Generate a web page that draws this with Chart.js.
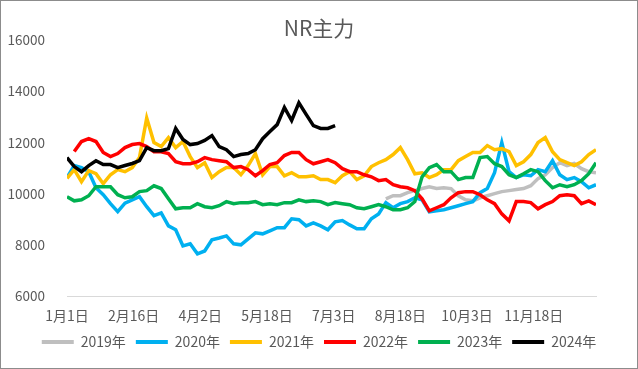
<!DOCTYPE html>
<html>
<head>
<meta charset="utf-8">
<script src="https://cdn.jsdelivr.net/npm/chart.js@4.4.1/dist/chart.umd.min.js"></script>
<style>
  html, body { margin: 0; padding: 0; background: #fff; }
  #wrap { width: 638px; height: 369px; box-sizing: border-box; border: 1px solid #8c8c8c; }
  canvas { display: block; }
</style>
</head>
<body>
<div id="wrap"><canvas id="myChart" width="636" height="367"></canvas></div>
<script>
// day of year, sampled every 5 days
var days = [0, 5, 10, 15, 20, 25, 30, 35, 40, 45, 50, 55, 60, 65, 70, 75, 80, 85, 90, 95,
  100, 105, 110, 115, 120, 125, 130, 135, 140, 145, 150, 155, 160, 165, 170, 175, 180, 185, 190, 195,
  200, 205, 210, 215, 220, 225, 230, 235, 240, 245, 250, 255, 260, 265, 270, 275, 280, 285, 290, 295,
  300, 305, 310, 315, 320, 325, 330, 335, 340, 345, 350, 355, 360, 365];

var tickDays = [0, 46, 92, 138, 184, 230, 276, 322];
var tickLabels = ['1月1日', '2月16日', '4月2日', '5月18日', '7月3日', '8月18日', '10月3日', '11月18日'];

var seriesNames = ['2019年', '2020年', '2021年', '2022年', '2023年', '2024年'];
var seriesColors = ['#BFBFBF', '#00B0F0', '#FFC000', '#FF0000', '#00B050', '#000000'];

// 2019 only shows from mid August
var y2019 = Array(44).fill(null).concat([
  9800, 9920, 9920, 10040, 10120, 10200, 10270, 10200, 10230, 10200,
  9920, 9760, 9720, 9840, 9920, 10000, 10080, 10120, 10160, 10200,
  10310, 10590, 10740, 11020, 11210, 11100, 11180, 10980, 10860, 10820]);

var y2020 = [10630, 11100, 11020, 10860, 10230, 9960, 9610, 9300, 9630, 9760,
  9880, 9490, 9140, 9250, 8740, 8590, 7960, 8040, 7650, 7760,
  8200, 8270, 8350, 8040, 8000, 8230, 8470, 8430, 8550, 8670,
  8670, 9020, 8980, 8740, 8860, 8740, 8590, 8900, 8950, 8780,
  8630, 8630, 9020, 9210, 9650, 9450, 9610, 9690, 9840, 9760,
  9290, 9330, 9370, 9450, 9530, 9610, 9690, 10040, 10200, 10820,
  12000, 10860, 10630, 10740, 10700, 10940, 10860, 11290, 10740, 10550,
  10630, 10470, 10230, 10350];

var y2021 = [10600, 10940, 10470, 10900, 10780, 10390, 10740, 10940, 10860, 11020,
  11410, 12960, 12000, 11840, 12190, 11800, 12040, 11450, 11020, 11210,
  10630, 10860, 11020, 11020, 10740, 11100, 11570, 10740, 11060, 11060,
  10700, 10820, 10660, 10660, 10700, 10550, 10550, 10430, 10700, 10860,
  10550, 10700, 11060, 11210, 11330, 11530, 11800, 11330, 10780, 10820,
  10630, 10740, 10940, 10940, 11290, 11450, 11610, 11610, 11880, 11720,
  11760, 11640, 11100, 11250, 11530, 12000, 12190, 11640, 11330, 11210,
  11100, 11250, 11530, 11720];

var y2022 = [null, 11650, 12040, 12150, 12040, 11610, 11450, 11570, 11800, 11920,
  11960, 11840, 11640, 11640, 11570, 11250, 11170, 11170, 11250, 11410,
  11330, 11290, 11250, 11020, 11060, 10940, 10700, 10900, 11140, 11210,
  11490, 11610, 11610, 11330, 11170, 11250, 11330, 11210, 10980, 10860,
  10860, 10740, 10660, 10510, 10550, 10350, 10270, 10230, 10120, 9800,
  9330, 9450, 9570, 9840, 10040, 10080, 10080, 9960, 9760, 9610,
  9210, 8940, 9690, 9690, 9650, 9410, 9570, 9690, 9920, 9960,
  9920, 9610, 9720, 9570];

var y2023 = [9880, 9720, 9760, 9920, 10270, 10270, 10270, 9960, 9840, 9880,
  10080, 10120, 10310, 10200, 9800, 9410, 9450, 9450, 9610, 9490,
  9450, 9530, 9690, 9610, 9650, 9650, 9690, 9570, 9610, 9570,
  9650, 9650, 9760, 9690, 9720, 9690, 9570, 9650, 9610, 9570,
  9450, 9410, 9490, 9570, 9490, 9370, 9370, 9450, 9690, 10660,
  11020, 11140, 10860, 10860, 10550, 10630, 10630, 11410, 11450, 11170,
  11060, 10740, 10630, 10780, 10940, 10860, 10510, 10230, 10350, 10270,
  10350, 10510, 10780, 11210];

// 2024 runs to early July
var y2024 = [11410, 11060, 10860, 11100, 11290, 11140, 11140, 11020, 11100, 11180,
  11290, 11800, 11680, 11680, 11760, 12550, 12120, 11920, 11960, 12080,
  12270, 11840, 11720, 11450, 11530, 11570, 11720, 12150, 12430, 12700,
  13370, 12860, 13550, 13100, 12660, 12550, 12550, 12660].concat(Array(36).fill(null));

var allSeries = [y2019, y2020, y2021, y2022, y2023, y2024];

function toPoints(vals) {
  return days.map(function(d, i) { return { x: d, y: vals[i] }; });
}

var datasets = allSeries.map(function(vals, i) {
  return {
    label: seriesNames[i],
    data: toPoints(vals),
    borderColor: seriesColors[i],
    backgroundColor: seriesColors[i],
    borderWidth: 3.5,
    pointRadius: 0,
    tension: 0,
    // later years drawn on top, like Excel
    order: allSeries.length - i
  };
});

// title and legend are centred on the whole picture, not on the padded area
var centreOnCanvas = {
  id: 'centreOnCanvas',
  afterLayout: function(chart) {
    [chart.titleBlock, chart.legend].forEach(function(box) {
      if (!box) return;
      var shift = (chart.width - box.right - box.left) / 2;
      box.left += shift;
      box.right += shift;
    });
  }
};

Chart.defaults.font.family = '"Noto Sans CJK SC", "Noto Sans", sans-serif';
Chart.defaults.color = '#595959';

var ctx = document.getElementById('myChart').getContext('2d');

var myLineChart = new Chart(ctx, {
  type: 'line',
  data: { datasets: datasets },
  plugins: [centreOnCanvas],
  options: {
    responsive: false,
    animation: false,
    layout: { padding: { left: 0, right: 41, top: 0, bottom: 9 } },
    plugins: {
      title: {
        display: true,
        text: 'NR主力',
        color: '#595959',
        font: { size: 21, weight: 'normal' },
        padding: { top: 14, bottom: 0 }
      },
      legend: {
        position: 'bottom',
        labels: {
          boxWidth: 32,
          boxHeight: 4,
          padding: 10,
          font: { size: 14 },
          color: '#595959',
          generateLabels: function(chart) {
            return chart.data.datasets.map(function(ds, i) {
              return {
                text: ds.label,
                fillStyle: ds.borderColor,
                strokeStyle: ds.borderColor,
                lineWidth: 0,
                hidden: false,
                datasetIndex: i,
                fontColor: '#595959'
              };
            });
          }
        }
      },
      tooltip: { enabled: false }
    },
    scales: {
      x: {
        type: 'linear',
        min: 0,
        max: 365,
        afterBuildTicks: function(scale) {
          scale.ticks = tickDays.map(function(d) { return { value: d }; });
        },
        afterFit: function(scale) { scale.height = 29; },
        ticks: {
          autoSkip: false,
          maxRotation: 0,
          padding: 3,
          font: { size: 14 },
          callback: function(value) {
            return tickLabels[tickDays.indexOf(value)];
          }
        },
        grid: { display: false },
        border: { display: true, color: '#D9D9D9', width: 1 }
      },
      y: {
        min: 6000,
        max: 16000,
        afterFit: function(scale) { scale.width = 66; },
        ticks: {
          stepSize: 2000,
          padding: 14,
          font: { size: 13.5 },
          callback: function(value) { return String(value); }
        },
        grid: { display: false },
        border: { display: false }
      }
    }
  }
});
</script>
</body>
</html>
